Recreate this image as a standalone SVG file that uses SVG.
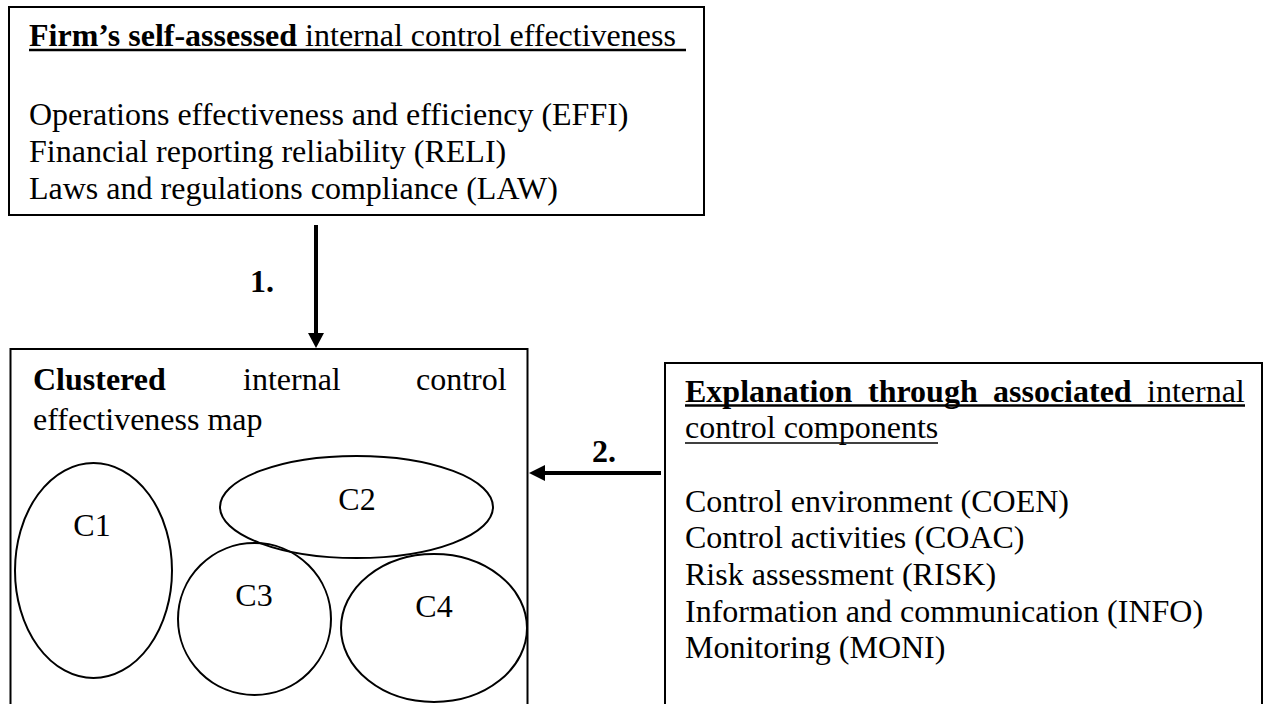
<svg xmlns="http://www.w3.org/2000/svg" width="1266" height="704" viewBox="0 0 1266 704">
<style>
  text { font-family: "Liberation Serif", "Times New Roman", serif; font-size: 32px; fill: #000; }
  .b { font-weight: bold; }
  .box { fill: #fff; stroke: #000; stroke-width: 2; }
  .ell { fill: none; stroke: #000; stroke-width: 2; }
  .ul { stroke: #000; }
  .edge { stroke: #000; stroke-width: 4; fill: none; }
  .head { fill: #000; stroke: none; }
</style>
<rect width="1266" height="704" fill="#fff"/>

<g id="node-self-assessed">
  <rect class="box" x="9" y="7" width="695" height="208"/>
  <text x="29" y="46"><tspan class="b">Firm’s self-assessed</tspan> internal control effectiveness</text>
  <line class="ul" x1="29" y1="50" x2="686" y2="50" stroke-width="2.5"/>
  <text x="29" y="125">Operations effectiveness and efficiency (EFFI)</text>
  <text x="29" y="162">Financial reporting reliability (RELI)</text>
  <text x="29" y="199">Laws and regulations compliance (LAW)</text>
</g>

<g id="node-clustered">
  <rect class="box" x="10.5" y="349" width="517" height="400"/>
  <text class="b" x="33" y="390">Clustered</text>
  <text x="243" y="390">internal</text>
  <text x="416" y="390">control</text>
  <text x="33" y="430">effectiveness map</text>
  <g id="cluster-C1">
    <ellipse class="ell" cx="93.5" cy="570.5" rx="78.5" ry="107.5"/>
    <text x="92" y="536" text-anchor="middle">C1</text>
  </g>
  <g id="cluster-C2">
    <ellipse class="ell" cx="356.5" cy="507" rx="136.5" ry="51"/>
    <text x="357" y="510" text-anchor="middle">C2</text>
  </g>
  <g id="cluster-C3">
    <ellipse class="ell" cx="254.5" cy="619" rx="76.5" ry="76"/>
    <text x="254" y="606" text-anchor="middle">C3</text>
  </g>
  <g id="cluster-C4">
    <ellipse class="ell" cx="434" cy="628" rx="93" ry="74"/>
    <text x="434" y="617" text-anchor="middle">C4</text>
  </g>
</g>

<g id="node-explanation">
  <rect class="box" x="665" y="363" width="597" height="400"/>
  <text class="b" x="685" y="402">Explanation</text>
  <text class="b" x="868" y="402">through</text>
  <text class="b" x="993" y="402">associated</text>
  <text x="1147" y="402">internal</text>
  <line class="ul" x1="685" y1="405.5" x2="1245" y2="405.5" stroke-width="2.5"/>
  <text x="685" y="438">control components</text>
  <line class="ul" x1="685" y1="443" x2="938" y2="443" stroke-width="1.5"/>
  <text x="685" y="512">Control environment (COEN)</text>
  <text x="685" y="548">Control activities (COAC)</text>
  <text x="685" y="585">Risk assessment (RISK)</text>
  <text x="685" y="622">Information and communication (INFO)</text>
  <text x="685" y="658">Monitoring (MONI)</text>
</g>

<g id="connectors">
  <g id="edge-1">
    <line class="edge" x1="316" y1="225" x2="316" y2="334"/>
    <polygon class="head" points="308,333 324,333 316,348"/>
    <text class="b" x="250" y="292">1.</text>
  </g>
  <g id="edge-2">
    <line class="edge" x1="661" y1="473" x2="544" y2="473"/>
    <polygon class="head" points="545,465 545,481 529,473"/>
    <text class="b" x="592" y="462">2.</text>
  </g>
</g>
</svg>
